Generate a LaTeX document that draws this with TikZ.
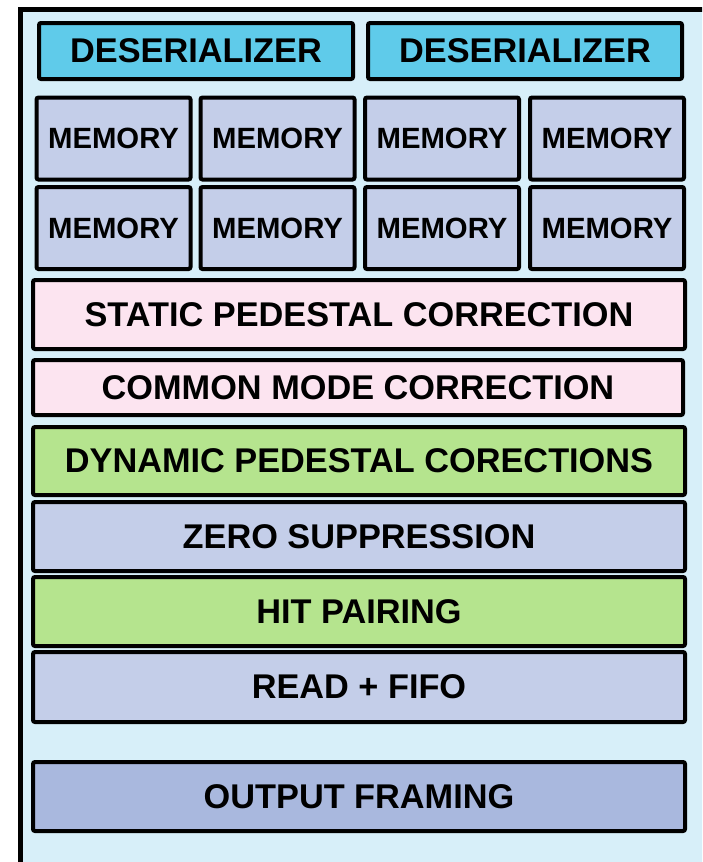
\documentclass[tikz,border=0pt]{standalone}
\usepackage{fontspec}
\setmainfont{Liberation Sans}
\usepackage{xcolor}
\usepackage{tikz}
\definecolor{BG}{HTML}{D7EFF9}
\definecolor{DES}{HTML}{5FCBEA}
\definecolor{MEM}{HTML}{C4CEE9}
\definecolor{PED}{HTML}{FCE4F0}
\definecolor{DYN}{HTML}{B5E48E}
\definecolor{OUT}{HTML}{A9B8DE}

\begin{document}
\begin{tikzpicture}[x=1pt, y=-1pt,
  blk/.style={draw, line width=4pt, rounded corners=2pt, inner sep=0pt, text centered, font=\bfseries\fontsize{34.3}{36}\selectfont},
  memblk/.style={blk, minimum width=154pt, minimum height=82pt, fill=MEM, font=\bfseries\fontsize{29.3}{31}\selectfont},
  wideblk/.style={blk, minimum width=652pt, minimum height=69pt}]%
\clip (0,0) rectangle (702,862);%
% board outline, runs off the right and bottom
\draw[line width=5pt, fill=BG] (20,9.5) rectangle (740,900);%
% input stage
\node[blk, minimum width=314pt, minimum height=56pt, fill=DES] (des0) at (196,51) {DESERIALIZER};%
\node[blk, minimum width=314pt, minimum height=56pt, fill=DES] (des1) at (525,51) {DESERIALIZER};%
\node[memblk] (mem0) at (113.5,138.5) {MEMORY};%
\node[memblk] (mem1) at (277.5,138.5) {MEMORY};%
\node[memblk] (mem2) at (442,138.5) {MEMORY};%
\node[memblk] (mem3) at (607,138.5) {MEMORY};%
\node[memblk] (mem4) at (113.5,228) {MEMORY};%
\node[memblk] (mem5) at (277.5,228) {MEMORY};%
\node[memblk] (mem6) at (442,228) {MEMORY};%
\node[memblk] (mem7) at (607,228) {MEMORY};%
% processing chain
\node[wideblk, fill=PED] (spc) at (359,314.5) {STATIC PEDESTAL CORRECTION};%
\node[wideblk, minimum width=650pt, minimum height=55pt, fill=PED] (cmc) at (358,387.5) {COMMON MODE CORRECTION};%
\node[wideblk, minimum height=68pt, fill=DYN] (dpc) at (359,461) {DYNAMIC PEDESTAL CORECTIONS};%
\node[wideblk, fill=MEM] (zs) at (359,536.5) {ZERO SUPPRESSION};%
\node[wideblk, fill=DYN] (hp) at (359,611.5) {HIT PAIRING};%
\node[wideblk, minimum height=70pt, fill=MEM] (rf) at (359,687) {READ + FIFO};%
\node[wideblk, fill=OUT] (of) at (359,796.5) {OUTPUT FRAMING};%
\end{tikzpicture}
\end{document}
